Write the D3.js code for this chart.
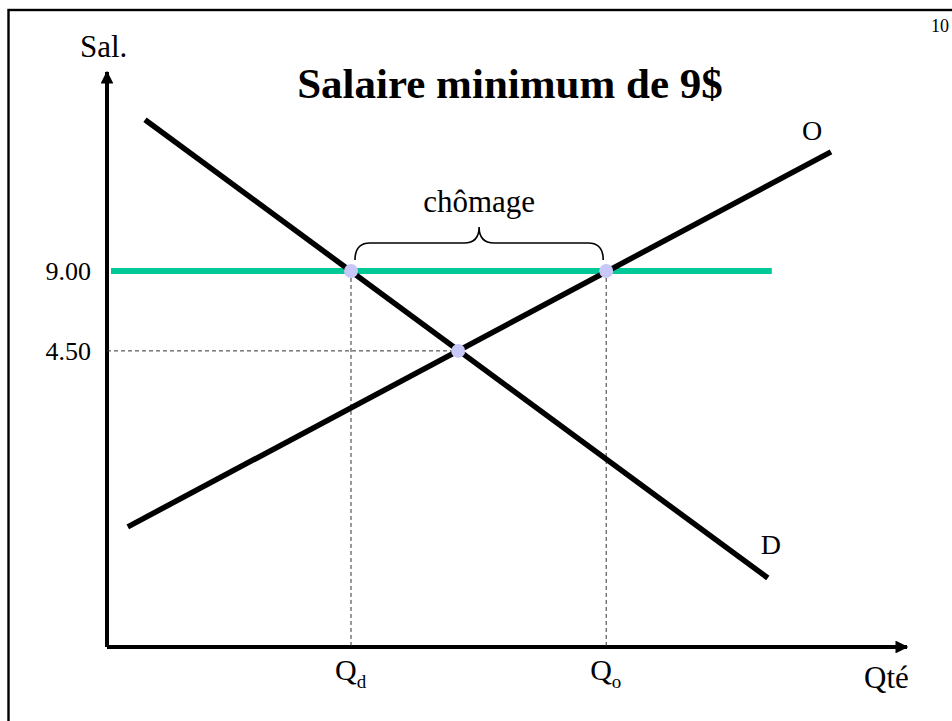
<!DOCTYPE html>
<html>
<head>
<meta charset="utf-8">
<script src="https://cdn.jsdelivr.net/npm/d3@7.9.0/dist/d3.min.js"></script>
<style>
  html, body { margin: 0; padding: 0; background: #fff; }
  svg { display: block; font-family: "Liberation Serif", "Times New Roman", serif; }
</style>
</head>
<body>
<svg id="chart" width="952" height="721"></svg>
<script>
// values, in abstract diagram units (0-100 on each axis)
const supplyLine = [{ q: 2.6, w: 20.9 }, { q: 90.5, w: 86.1 }];
const demandLine = [{ q: 4.75, w: 91.7 }, { q: 82.6, w: 12.0 }];
const minWageLine = [{ q: 0.5, w: 65.4 }, { q: 83.1, w: 65.4 }];
const keyPoints = [
  { q: 30.5, w: 65.4 },  // Qd
  { q: 62.4, w: 65.4 },  // Qo
  { q: 43.9, w: 51.5 }   // equilibre
];
const wageTicks = [{ w: 65.4, label: '9.00' }, { w: 51.5, label: '4.50' }];
const qtyTicks = [{ q: 30.5, main: 'Q', sub: 'd' }, { q: 62.4, main: 'Q', sub: 'o' }];

const svg = d3.select('#chart');

const x = d3.scaleLinear().domain([0, 100]).range([107, 907]);
const y = d3.scaleLinear().domain([0, 100]).range([647, 72]);

const line = d3.line().x((d) => x(d.q)).y((d) => y(d.w));

// slide frame
svg.append('rect')
  .attr('x', 8.5).attr('y', 10)
  .attr('width', 980).attr('height', 760)
  .attr('fill', 'none').attr('stroke', '#000').attr('stroke-width', 2.4);

// page number
svg.append('text')
  .attr('x', 949).attr('y', 32)
  .attr('text-anchor', 'end')
  .attr('font-size', 18)
  .text('10');

// axes with arrow heads
let defs = svg.append('defs');
defs.append('marker')
  .attr('id', 'arrow')
  .attr('viewBox', '0 0 10 10')
  .attr('refX', 9).attr('refY', 5)
  .attr('markerWidth', 3.2).attr('markerHeight', 3.2)
  .attr('markerUnits', 'strokeWidth')
  .attr('orient', 'auto')
  .append('path')
  .attr('d', 'M0,0 L10,5 L0,10 Z')
  .attr('fill', '#000');

svg.append('line')
  .attr('x1', x(0)).attr('y1', y(0))
  .attr('x2', x(0)).attr('y2', y(100))
  .attr('stroke', '#000').attr('stroke-width', 4)
  .attr('marker-end', 'url(#arrow)');

svg.append('line')
  .attr('x1', x(0)).attr('y1', y(0))
  .attr('x2', x(100)).attr('y2', y(0))
  .attr('stroke', '#000').attr('stroke-width', 4)
  .attr('marker-end', 'url(#arrow)');

// dashed guides
const guide = svg.append('g')
  .attr('stroke', '#333').attr('stroke-width', 1)
  .attr('stroke-dasharray', '4,3').attr('fill', 'none');

guide.append('line')
  .attr('x1', x(0)).attr('y1', y(keyPoints[2].w))
  .attr('x2', x(keyPoints[2].q)).attr('y2', y(keyPoints[2].w));

keyPoints.slice(0, 2).forEach((p) => {
  guide.append('line')
    .attr('x1', x(p.q)).attr('y1', y(p.w))
    .attr('x2', x(p.q)).attr('y2', y(0));
});

// minimum wage line
svg.append('path')
  .attr('d', line(minWageLine))
  .attr('stroke', '#00c896').attr('stroke-width', 6).attr('fill', 'none');

// supply and demand
svg.append('path')
  .attr('d', line(supplyLine))
  .attr('stroke', '#000').attr('stroke-width', 5.5).attr('fill', 'none');

svg.append('path')
  .attr('d', line(demandLine))
  .attr('stroke', '#000').attr('stroke-width', 5.5).attr('fill', 'none');

svg.selectAll('circle.pt')
  .data(keyPoints)
  .join('circle')
  .attr('class', 'pt')
  .attr('cx', (d) => x(d.q))
  .attr('cy', (d) => y(d.w))
  .attr('r', 7)
  .attr('fill', '#c8c8f8');

// brace over the unemployment gap
let bx1 = x(keyPoints[0].q) + 4;
let bx2 = x(keyPoints[1].q) - 3;
let bm = (bx1 + bx2) / 2;
let by0 = y(keyPoints[0].w) - 11;
let by1 = by0 - 17;
let byTip = by1 - 16;
let r = 15;

let brace = d3.path();
brace.moveTo(bx1, by0);
brace.quadraticCurveTo(bx1, by1, bx1 + r, by1);
brace.lineTo(bm - r, by1);
brace.quadraticCurveTo(bm, by1, bm, byTip);
brace.quadraticCurveTo(bm, by1, bm + r, by1);
brace.lineTo(bx2 - r, by1);
brace.quadraticCurveTo(bx2, by1, bx2, by0);

svg.append('path')
  .attr('d', brace.toString())
  .attr('fill', 'none').attr('stroke', '#000').attr('stroke-width', 1.6);

svg.append('text')
  .attr('x', bm).attr('y', byTip - 15)
  .attr('text-anchor', 'middle')
  .attr('font-size', 31)
  .text('chômage');

// labels
svg.append('text')
  .attr('x', 510).attr('y', 98)
  .attr('text-anchor', 'middle')
  .attr('font-size', 43).attr('font-weight', 'bold')
  .text('Salaire minimum de 9$');

svg.append('text')
  .attr('x', x(0) - 27).attr('y', 57)
  .attr('font-size', 31)
  .text('Sal.');

svg.append('text')
  .attr('x', x(100) - 43).attr('y', 688)
  .attr('font-size', 31)
  .text('Qté');

svg.selectAll('text.wtick')
  .data(wageTicks)
  .join('text')
  .attr('class', 'wtick')
  .attr('x', x(0) - 16)
  .attr('y', (d) => y(d.w) + 9)
  .attr('text-anchor', 'end')
  .attr('font-size', 26)
  .text((d) => d.label);

let qt = svg.selectAll('text.qtick')
  .data(qtyTicks)
  .join('text')
  .attr('class', 'qtick')
  .attr('x', (d) => x(d.q) - 16)
  .attr('y', 680)
  .attr('font-size', 30);
qt.append('tspan').text((d) => d.main);
qt.append('tspan').attr('font-size', 19).attr('dy', 8).text((d) => d.sub);

let supplyEnd = supplyLine[supplyLine.length - 1];
svg.append('text')
  .attr('x', x(supplyEnd.q) - 29).attr('y', y(supplyEnd.w) - 12)
  .attr('font-size', 28)
  .text('O');

let demandEnd = demandLine[demandLine.length - 1];
svg.append('text')
  .attr('x', x(demandEnd.q) - 7).attr('y', y(demandEnd.w) - 24)
  .attr('font-size', 28)
  .text('D');
</script>
</body>
</html>
